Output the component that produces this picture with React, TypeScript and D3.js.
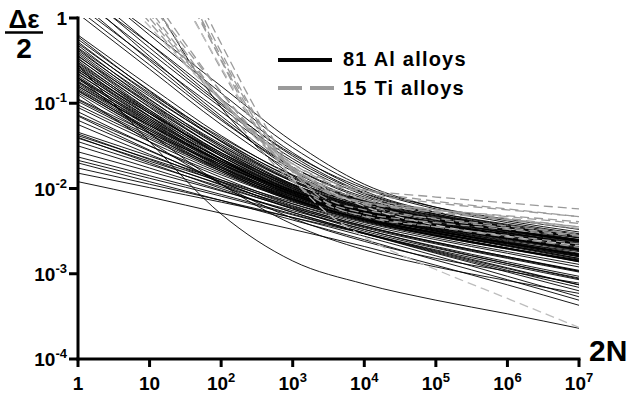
import React from 'react';
import * as d3 from 'd3';

// log10(2N) sampling grid for the aluminium curves
const alExp = [0, 1, 2, 3, 4, 5, 6, 7];
// log10(2N) sampling grid for the titanium curves
const tiExp = [0, 0.5, 1, 1.5, 2, 2.5, 3, 3.5, 4, 5, 6, 7];

const xTickExp = [0, 1, 2, 3, 4, 5, 6, 7];
const yTickExp = [0, -1, -2, -3, -4];

// log10(strain amplitude) read at each decade of 2N: high-ductility Al alloys
const alHigh = [
  [0.30, -0.45, -1.15, -1.75, -2.12, -2.32, -2.45, -2.56],
  [0.40, -0.30, -1.00, -1.62, -2.05, -2.28, -2.42, -2.54],
  [0.20, -0.50, -1.18, -1.78, -2.15, -2.36, -2.50, -2.62],
  [0.50, -0.20, -0.88, -1.52, -1.98, -2.22, -2.36, -2.48],
  [0.10, -0.55, -1.20, -1.75, -2.10, -2.30, -2.44, -2.57],
  [1.60, 0.25, -1.05, -1.85, -2.17, -2.35, -2.49, -2.61],
  [0.25, -0.40, -1.05, -1.65, -2.06, -2.30, -2.45, -2.58],
  [0.15, -0.48, -1.10, -1.68, -2.08, -2.31, -2.46, -2.60],
  [0.35, -0.35, -1.02, -1.60, -2.00, -2.24, -2.40, -2.53],
  [0.05, -0.60, -1.25, -1.80, -2.16, -2.37, -2.52, -2.65],
  [0.45, -0.15, -0.80, -1.45, -1.95, -2.22, -2.38, -2.51],
  [0.30, -0.30, -0.95, -1.58, -2.03, -2.28, -2.43, -2.56],
];

// main band of Al alloys
const alBand = [
  [-0.20, -0.80, -1.38, -1.85, -2.15, -2.33, -2.46, -2.58],
  [-0.25, -0.85, -1.42, -1.88, -2.17, -2.35, -2.49, -2.62],
  [-0.28, -0.90, -1.45, -1.90, -2.20, -2.38, -2.52, -2.65],
  [-0.30, -0.88, -1.40, -1.84, -2.14, -2.32, -2.45, -2.57],
  [-0.32, -0.95, -1.50, -1.95, -2.23, -2.41, -2.55, -2.68],
  [-0.35, -0.92, -1.44, -1.87, -2.16, -2.34, -2.48, -2.61],
  [-0.36, -0.98, -1.52, -1.96, -2.24, -2.43, -2.58, -2.72],
  [-0.38, -0.96, -1.48, -1.91, -2.19, -2.36, -2.49, -2.60],
  [-0.40, -1.00, -1.55, -1.98, -2.26, -2.44, -2.58, -2.70],
  [-0.42, -1.02, -1.55, -1.97, -2.23, -2.39, -2.51, -2.62],
  [-0.44, -1.05, -1.58, -2.00, -2.28, -2.47, -2.62, -2.76],
  [-0.45, -1.00, -1.50, -1.92, -2.20, -2.37, -2.50, -2.62],
  [-0.47, -1.08, -1.62, -2.03, -2.30, -2.48, -2.63, -2.77],
  [-0.48, -1.04, -1.54, -1.95, -2.22, -2.40, -2.54, -2.66],
  [-0.50, -1.10, -1.62, -2.02, -2.27, -2.43, -2.55, -2.66],
  [-0.52, -1.08, -1.58, -1.98, -2.25, -2.43, -2.58, -2.71],
  [-0.53, -1.12, -1.65, -2.05, -2.31, -2.49, -2.64, -2.79],
  [-0.55, -1.10, -1.60, -2.00, -2.26, -2.42, -2.54, -2.65],
  [-0.56, -1.15, -1.66, -2.05, -2.30, -2.46, -2.59, -2.72],
  [-0.58, -1.12, -1.60, -1.99, -2.24, -2.40, -2.52, -2.63],
  [-0.60, -1.16, -1.66, -2.06, -2.32, -2.50, -2.65, -2.80],
  [-0.60, -1.12, -1.58, -1.96, -2.21, -2.37, -2.49, -2.60],
  [-0.62, -1.18, -1.68, -2.07, -2.32, -2.48, -2.61, -2.73],
  [-0.63, -1.15, -1.62, -2.01, -2.27, -2.44, -2.57, -2.69],
  [-0.65, -1.20, -1.70, -2.08, -2.33, -2.50, -2.64, -2.78],
  [-0.66, -1.18, -1.65, -2.03, -2.28, -2.44, -2.56, -2.67],
  [-0.68, -1.22, -1.70, -2.08, -2.34, -2.52, -2.67, -2.82],
  [-0.70, -1.20, -1.65, -2.02, -2.27, -2.43, -2.55, -2.66],
  [-0.70, -1.24, -1.72, -2.10, -2.35, -2.52, -2.66, -2.79],
  [-0.72, -1.22, -1.68, -2.05, -2.30, -2.46, -2.58, -2.70],
  [-0.74, -1.26, -1.74, -2.11, -2.36, -2.53, -2.68, -2.83],
  [-0.75, -1.24, -1.68, -2.04, -2.28, -2.43, -2.55, -2.66],
  [-0.76, -1.28, -1.75, -2.12, -2.37, -2.55, -2.70, -2.85],
  [-0.78, -1.26, -1.70, -2.06, -2.30, -2.46, -2.59, -2.71],
  [-0.80, -1.30, -1.76, -2.12, -2.36, -2.52, -2.65, -2.77],
  [-0.80, -1.26, -1.68, -2.03, -2.27, -2.42, -2.53, -2.64],
  [-0.82, -1.32, -1.78, -2.14, -2.38, -2.55, -2.70, -2.84],
  [-0.84, -1.30, -1.72, -2.07, -2.31, -2.47, -2.60, -2.72],
  [-0.85, -1.34, -1.78, -2.13, -2.36, -2.51, -2.63, -2.74],
  [-0.86, -1.32, -1.74, -2.09, -2.33, -2.50, -2.64, -2.78],
  [-0.88, -1.36, -1.80, -2.15, -2.39, -2.56, -2.71, -2.86],
  [-0.22, -0.86, -1.45, -1.92, -2.22, -2.40, -2.54, -2.67],
];

// flatter Al alloys starting lower
const alMid = [
  [-0.95, -1.35, -1.72, -2.04, -2.28, -2.45, -2.59, -2.72],
  [-0.98, -1.40, -1.78, -2.10, -2.34, -2.52, -2.67, -2.82],
  [-1.02, -1.42, -1.80, -2.12, -2.36, -2.54, -2.70, -2.86],
  [-1.05, -1.45, -1.82, -2.13, -2.36, -2.53, -2.67, -2.80],
  [-1.10, -1.50, -1.87, -2.18, -2.42, -2.60, -2.76, -2.92],
  [-1.14, -1.50, -1.84, -2.14, -2.37, -2.55, -2.70, -2.84],
  [-1.20, -1.56, -1.90, -2.20, -2.44, -2.63, -2.80, -2.97],
  [-1.25, -1.60, -1.93, -2.22, -2.46, -2.65, -2.82, -2.98],
  [-1.34, -1.62, -1.90, -2.16, -2.38, -2.56, -2.71, -2.85],
  [-1.36, -1.66, -1.96, -2.24, -2.48, -2.68, -2.86, -3.03],
  [-1.38, -1.65, -1.92, -2.18, -2.40, -2.58, -2.74, -2.89],
  [-1.40, -1.70, -2.00, -2.28, -2.52, -2.72, -2.90, -3.07],
  [-1.41, -1.68, -1.95, -2.21, -2.44, -2.63, -2.80, -2.96],
  [-1.45, -1.72, -1.98, -2.23, -2.45, -2.64, -2.81, -2.97],
  [-0.96, -1.38, -1.76, -2.08, -2.32, -2.49, -2.64, -2.77],
  [-1.15, -1.55, -1.92, -2.24, -2.50, -2.70, -2.88, -3.05],
];

// lowest-starting Al alloys
const alLow = [
  [-1.50, -1.76, -2.02, -2.28, -2.52, -2.74, -2.94, -3.13],
  [-1.57, -1.80, -2.03, -2.26, -2.48, -2.69, -2.88, -3.06],
  [-1.63, -1.85, -2.07, -2.30, -2.53, -2.76, -2.98, -3.20],
  [-1.67, -1.88, -2.09, -2.31, -2.53, -2.75, -2.96, -3.16],
  [-1.76, -1.95, -2.14, -2.34, -2.56, -2.79, -3.03, -3.27],
  [-1.82, -1.99, -2.16, -2.34, -2.53, -2.73, -2.93, -3.13],
  [-1.92, -2.10, -2.29, -2.48, -2.68, -2.90, -3.13, -3.37],
  [-1.70, -1.92, -2.14, -2.37, -2.60, -2.84, -3.07, -3.31],
];

// steep Al alloys ending lowest
const alSteep = [
  [-0.55, -1.45, -2.30, -2.85, -3.12, -3.31, -3.47, -3.64],
  [-0.70, -1.35, -1.95, -2.42, -2.72, -2.92, -3.08, -3.23],
  [-0.90, -1.45, -1.95, -2.35, -2.62, -2.82, -2.97, -3.11],
];

// log10(strain amplitude) of the Ti alloys on tiExp grid
const tiCurves = [
  [2.58, 1.78, 0.98, 0.18, -0.60, -1.30, -1.77, -1.96, -2.02, -2.10, -2.17, -2.24],
  [2.75, 1.95, 1.15, 0.35, -0.45, -1.19, -1.77, -2.05, -2.16, -2.25, -2.33, -2.41],
  [2.90, 2.08, 1.25, 0.43, -0.40, -1.17, -1.81, -2.13, -2.25, -2.35, -2.44, -2.53],
  [3.00, 2.18, 1.35, 0.53, -0.30, -1.09, -1.77, -2.18, -2.33, -2.45, -2.55, -2.65],
  [2.40, 1.65, 0.90, 0.15, -0.58, -1.28, -1.88, -2.30, -2.57, -2.95, -3.29, -3.63],
  [1.00, 0.50, 0.00, -0.50, -0.95, -1.38, -1.71, -1.93, -2.05, -2.17, -2.25, -2.33],
  [1.50, 0.90, 0.30, -0.30, -0.87, -1.39, -1.80, -2.04, -2.16, -2.27, -2.36, -2.45],
  [1.30, 0.75, 0.20, -0.35, -0.87, -1.36, -1.75, -2.00, -2.13, -2.25, -2.32, -2.39],
  [0.90, 0.43, -0.05, -0.53, -0.97, -1.40, -1.76, -2.03, -2.19, -2.36, -2.46, -2.55],
  [1.20, 0.65, 0.10, -0.45, -0.95, -1.42, -1.77, -1.99, -2.11, -2.25, -2.35, -2.45],
  [2.70, 1.90, 1.10, 0.30, -0.49, -1.23, -1.79, -2.06, -2.17, -2.28, -2.37, -2.47],
  [0.80, 0.35, -0.10, -0.55, -0.97, -1.38, -1.73, -2.02, -2.21, -2.43, -2.56, -2.67],
  [1.10, 0.58, 0.05, -0.48, -0.95, -1.38, -1.71, -1.91, -2.02, -2.15, -2.24, -2.33],
  [1.40, 0.80, 0.20, -0.40, -0.97, -1.50, -1.92, -2.17, -2.29, -2.40, -2.48, -2.56],
  [2.90, 2.05, 1.20, 0.35, -0.50, -1.29, -1.90, -2.20, -2.32, -2.45, -2.57, -2.69],
];

const legendLabels = ['81 Al alloys', '15 Ti alloys'];

const W = 628;
const H = 398;
const FONT = '"Liberation Sans", Arial, sans-serif';

export default function App() {
  const x = d3.scaleLog().domain([1, 1e7]).range([78, 579]);
  const y = d3.scaleLog().domain([1e-4, 1]).range([359, 18]);

  const line = d3
    .line<[number, number]>()
    .x((d) => x(Math.pow(10, d[0])))
    .y((d) => y(Math.pow(10, d[1])))
    .curve(d3.curveMonotoneX);

  const alAll = [...alHigh, ...alBand, ...alMid, ...alLow, ...alSteep];
  const lightTi = new Set([4, 11]);

  return (
    <svg
      width={W}
      height={H}
      style={{ position: 'absolute', left: 0, top: 0, background: '#fff' }}
      fontFamily={FONT}
    >
      <defs>
        <clipPath id="plotClip">
          <rect x={78} y={18} width={501} height={341} />
        </clipPath>
      </defs>
      <rect x={0} y={0} width={W} height={H} fill="#fff" />

      <g clipPath="url(#plotClip)" fill="none">
        {alAll.map((c, i) => (
          <path
            key={'al' + i}
            d={line(c.map((v, j) => [alExp[j], v] as [number, number])) || ''}
            stroke="#000"
            strokeWidth={0.9}
          />
        ))}
        {tiCurves.map((c, i) => (
          <path
            key={'ti' + i}
            d={line(c.map((v, j) => [tiExp[j], v] as [number, number])) || ''}
            stroke={lightTi.has(i) ? '#bdbdbd' : '#9a9a9a'}
            strokeWidth={1.3}
            strokeDasharray="9,5"
          />
        ))}
      </g>

      {/* axes */}
      <g stroke="#000" strokeWidth={3} fill="none">
        <line x1={78} y1={16.5} x2={78} y2={360.5} />
        <line x1={76.5} y1={359} x2={580.5} y2={359} />
        {yTickExp.map((e) => (
          <line key={'yt' + e} x1={69} x2={78} y1={y(Math.pow(10, e))} y2={y(Math.pow(10, e))} />
        ))}
        {xTickExp.map((e) => (
          <line key={'xt' + e} x1={x(Math.pow(10, e))} x2={x(Math.pow(10, e))} y1={359} y2={367} />
        ))}
      </g>

      <g fontWeight="bold" fill="#000">
        {yTickExp.map((e) => (
          <text key={'yl' + e} x={67} y={y(Math.pow(10, e)) + 7} textAnchor="end" fontSize={19}>
            {e === 0 ? '1' : '10'}
            {e !== 0 && (
              <tspan fontSize={13} dy={-8}>
                {String(e)}
              </tspan>
            )}
          </text>
        ))}
        {xTickExp.map((e) => (
          <text key={'xl' + e} x={x(Math.pow(10, e))} y={390} textAnchor="middle" fontSize={19}>
            {e === 0 ? '1' : '10'}
            {e > 1 && (
              <tspan fontSize={13} dy={-8}>
                {String(e)}
              </tspan>
            )}
          </text>
        ))}

        {/* axis titles */}
        <text x={24} y={28} textAnchor="middle" fontSize={26}>
          Δε
        </text>
        <line x1={5} x2={43} y1={32.5} y2={32.5} stroke="#000" strokeWidth={2.5} />
        <text x={24} y={58} textAnchor="middle" fontSize={28}>
          2
        </text>
        <text x={589} y={361} fontSize={30}>
          2N
        </text>

        {/* legend */}
        <line x1={278} x2={332} y1={60} y2={60} stroke="#000" strokeWidth={4} />
        <line x1={278} x2={334} y1={88} y2={88} stroke="#9a9a9a" strokeWidth={4} strokeDasharray="24,8" />
        <text x={343} y={66} fontSize={20} letterSpacing={1.2}>
          {legendLabels[0]}
        </text>
        <text x={343} y={95} fontSize={20} letterSpacing={1.2}>
          {legendLabels[1]}
        </text>
      </g>
    </svg>
  );
}
